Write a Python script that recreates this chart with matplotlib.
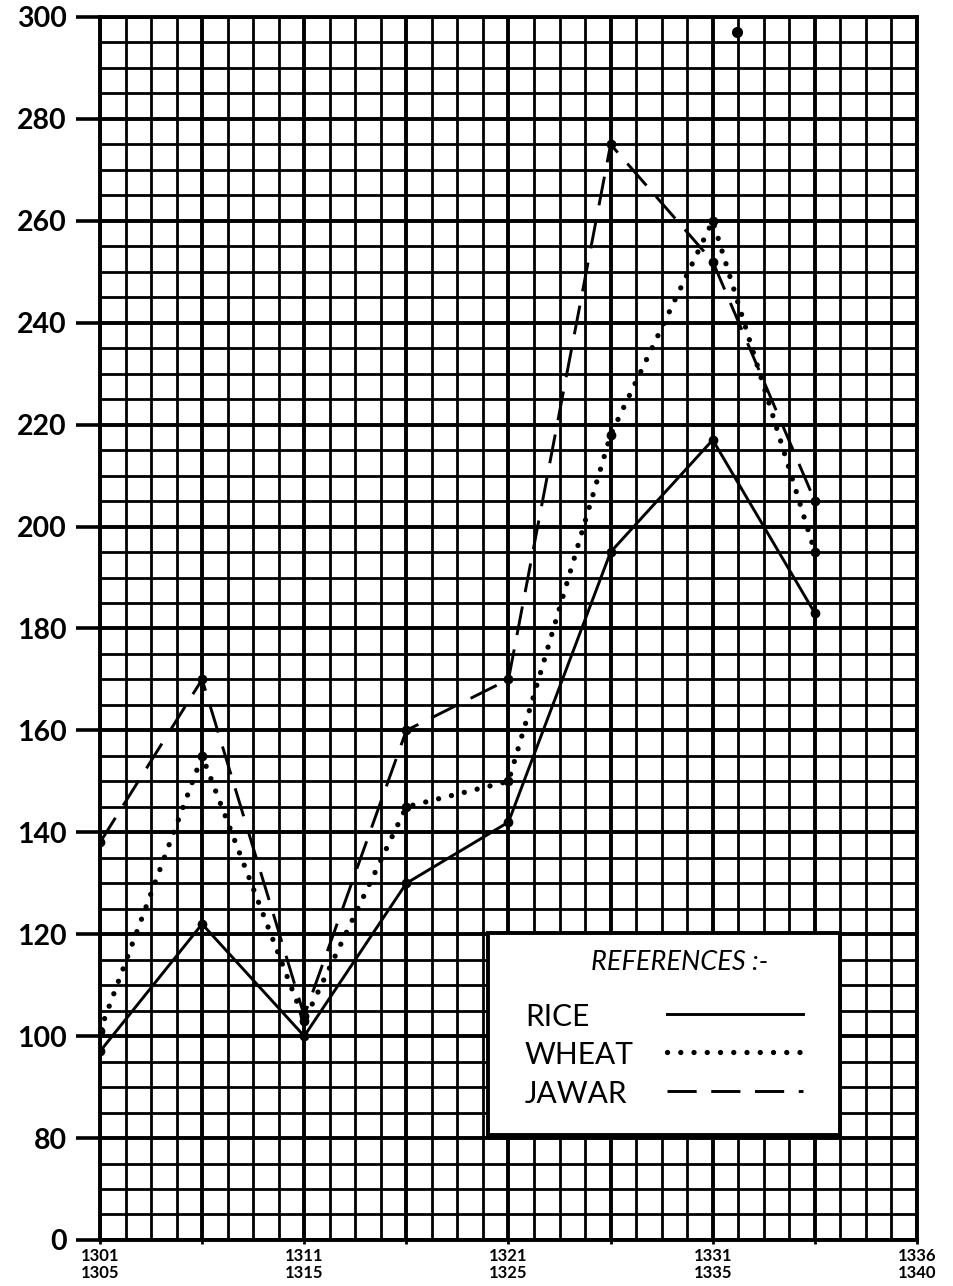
import matplotlib
matplotlib.use("Agg")
import matplotlib.pyplot as plt
from matplotlib.patches import Rectangle
from matplotlib.lines import Line2D

# ---------------- data ----------------
periods = ["1301-1305", "1306-1310", "1311-1315", "1316-1320",
           "1321-1325", "1326-1330", "1331-1335", "1336-1340"]
rice = [97, 122, 100, 130, 142, 195, 217, 183]
wheat = [101, 155, 103, 145, 150, 218, 260, 195]
jawar = [138, 170, 104, 160, 170, 275, 252, 205]
stray_x = [6.24]
stray_y = [297]

xtick_pos = [0, 2, 4, 6, 8]
xtick_labels = ["1301\n1305", "1311\n1315", "1321\n1325", "1331\n1335", "1336\n1340"]
ytick_pos = [60, 80, 100, 120, 140, 160, 180, 200, 220, 240, 260, 280, 300]
ytick_labels = ["0", "80", "100", "120", "140", "160", "180", "200",
                "220", "240", "260", "280", "300"]
legend_title = "REFERENCES :-"
series_names = ["RICE", "WHEAT", "JAWAR"]

plt.rcParams['font.family'] = ['Lato', 'DejaVu Sans']

fig = plt.figure(figsize=(9.54, 12.86), dpi=100)
ax = fig.add_axes([0.1048, 0.0358, 0.8564, 0.951])

x = list(range(len(periods)))

# grid
ax.set_xlim(0, 8)
ax.set_ylim(60, 300)
ax.set_xticks([i * 0.25 for i in range(33)], minor=True)
ax.set_yticks(list(range(60, 301, 5)), minor=True)
ax.set_xticks(list(range(9)))
ax.set_xticklabels(["" if i not in xtick_pos else xtick_labels[xtick_pos.index(i)]
                    for i in range(9)])
ax.set_yticks(ytick_pos)
ax.set_yticklabels(ytick_labels)
ax.grid(True, which='minor', color='black', linewidth=2.0, zorder=0)
ax.grid(True, which='major', color='black', linewidth=2.8, zorder=0)
ax.set_axisbelow(True)
ax.tick_params(axis='y', which='major', length=17, width=2.6, pad=7,
               labelsize=20.5, color='black')
ax.tick_params(axis='x', which='major', length=3, width=2, pad=3,
               labelsize=12)
ax.tick_params(which='minor', length=0)
for lab in ax.get_yticklabels():
    lab.set_fontweight('bold')
for lab in ax.get_xticklabels():
    lab.set_fontweight('bold')
    lab.set_linespacing(1.05)
for s in ax.spines.values():
    s.set_linewidth(2.8)

# data lines
ax.plot(x, rice, color='black', linewidth=2.1, marker='o', markersize=6,
        zorder=3, solid_joinstyle='miter')
wl, = ax.plot(x, wheat, color='black', linewidth=3.8, marker='o', markersize=6,
              zorder=3)
wl.set_dashes([0.01, 2.5])
wl.set_dash_capstyle('round')
jl, = ax.plot(x, jawar, color='black', linewidth=2.1, marker='o', markersize=6,
              zorder=3)
jl.set_dashes([10, 5])
ax.plot(stray_x, stray_y, 'o', color='black', markersize=7, zorder=3)

# legend box (drawn like the original "references" panel)
ax.add_patch(Rectangle((3.8, 80.5), 3.45, 39.7, facecolor='white',
                       edgecolor='black', linewidth=2.8, zorder=4))
ax.text(5.68, 114.5, legend_title, fontsize=19.5, style='italic',
        ha='center', va='center', zorder=5)
rows_y = [103.7, 96.3, 88.6]
styles = [dict(linewidth=2.1), dict(linewidth=3.8), dict(linewidth=2.1)]
for name, yy, st, k in zip(series_names, rows_y, styles, range(3)):
    ax.text(4.16, yy, name, fontsize=21.5, ha='left', va='center', zorder=5)
    ln = Line2D([5.55, 6.88], [yy + 0.6, yy + 0.6], color='black', zorder=5, **st)
    if k == 1:
        ln.set_dashes([0.01, 2.5])
        ln.set_dash_capstyle('round')
    elif k == 2:
        ln.set_dashes([10, 5])
    ax.add_line(ln)

fig.savefig("out.png", dpi=100)
